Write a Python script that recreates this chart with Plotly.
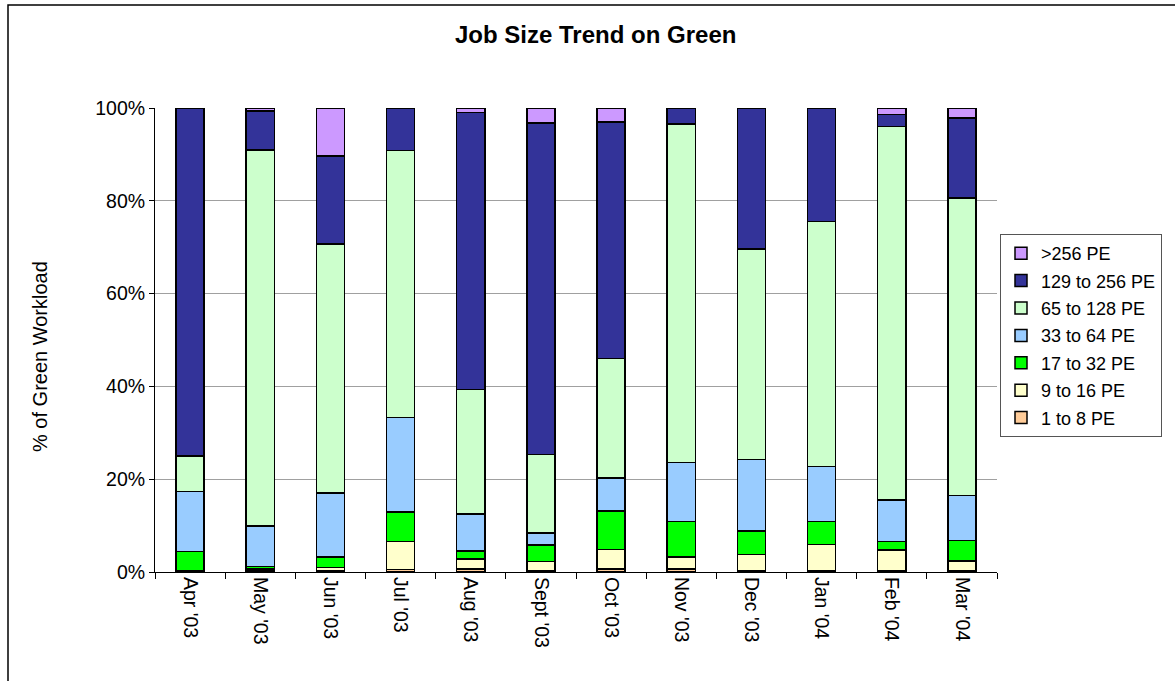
import plotly.graph_objects as go

# Monthly share of Green workload by job size (percent of total)
months = ["Apr '03", "May '03", "Jun '03", "Jul '03", "Aug '03", "Sept '03",
          "Oct '03", "Nov '03", "Dec '03", "Jan '04", "Feb '04", "Mar '04"]

pe_1_8     = [0.1, 0.3, 0.3, 0.5, 0.6, 0.2, 0.6, 0.6, 0.2, 0.2, 0.2, 0.2]
pe_9_16    = [0.1, 0.4, 0.7, 6.1, 2.2, 2.1, 4.3, 2.6, 3.6, 5.7, 4.5, 2.2]
pe_17_32   = [4.2, 0.5, 2.2, 6.3, 1.7, 3.5, 8.2, 7.7, 5.0, 5.0, 1.9, 4.4]
pe_33_64   = [12.9, 8.7, 13.8, 20.4, 8.0, 2.6, 7.2, 12.7, 15.4, 11.8, 8.9, 9.7]
pe_65_128  = [7.7, 81.0, 53.7, 57.5, 26.8, 16.9, 25.7, 73.0, 45.4, 52.8, 80.5, 64.1]
pe_129_256 = [75.0, 8.5, 19.0, 9.2, 59.7, 71.5, 51.0, 3.4, 30.4, 24.5, 2.6, 17.2]
pe_gt_256  = [0.0, 0.6, 10.3, 0.0, 1.0, 3.2, 3.0, 0.0, 0.0, 0.0, 1.4, 2.2]

y_ticks = [0, 20, 40, 60, 80, 100]
y_tick_labels = ["0%", "20%", "40%", "60%", "80%", "100%"]

series = [
    ("1 to 8 PE", pe_1_8, "#FFCC99"),
    ("9 to 16 PE", pe_9_16, "#FFFFCC"),
    ("17 to 32 PE", pe_17_32, "#00FF00"),
    ("33 to 64 PE", pe_33_64, "#99CCFF"),
    ("65 to 128 PE", pe_65_128, "#CCFFCC"),
    ("129 to 256 PE", pe_129_256, "#333399"),
    (">256 PE", pe_gt_256, "#CC99FF"),
]

FONT = "Liberation Sans, Arial, sans-serif"

fig = go.Figure()
n = len(series)
for i, (name, vals, color) in enumerate(series):
    fig.add_trace(go.Bar(
        x=months, y=vals, name=name, legendgroup=name,
        legendrank=n - i,
        marker=dict(color=color, line=dict(color="black", width=1.5)),
    ))

W, H = 1175, 681
L, R, T, B = 155, 178, 108, 109
pw, ph = W - L - R, H - T - B


def px_x(x):
    return (x - L) / pw


def px_y(y):
    return (H - B - y) / ph


fig.update_layout(
    width=W, height=H,
    margin=dict(l=L, r=R, t=T, b=B),
    barmode="stack", bargap=0.6,
    plot_bgcolor="white", paper_bgcolor="white",
    font=dict(family=FONT, size=19, color="black"),
    showlegend=True,
    legend=dict(
        x=px_x(1000), y=px_y(234), xanchor="left", yanchor="top",
        traceorder="grouped", tracegroupgap=1,
        bordercolor="#555555", borderwidth=1,
        font=dict(family=FONT, size=18, color="black"),
        itemwidth=30,
    ),
    xaxis=dict(
        type="category", tickangle=90, showline=True, linecolor="black",
        linewidth=1, ticks="outside", tickson="boundaries", ticklen=6,
        tickcolor="black", showgrid=False,
        tickfont=dict(family=FONT, size=19.5),
    ),
    yaxis=dict(
        range=[0, 100], tickvals=y_ticks, ticktext=y_tick_labels,
        showline=True, linecolor="black", linewidth=1, ticks="outside",
        ticklen=5, tickcolor="black", showgrid=True, gridcolor="#a0a0a0",
        gridwidth=1, zeroline=False, tickfont=dict(family=FONT, size=19.5),
    ),
    annotations=[
        dict(text="<b>Job Size Trend on Green</b>", xref="paper", yref="paper",
             x=px_x(595), y=px_y(35), xanchor="center", yanchor="middle",
             showarrow=False,
             font=dict(family=FONT, size=24, color="black")),
        dict(text="% of Green Workload", xref="paper", yref="paper",
             x=px_x(40), y=px_y(356), xanchor="center", yanchor="middle",
             textangle=-90, showarrow=False,
             font=dict(family=FONT, size=20, color="black")),
    ],
    shapes=[
        dict(type="rect", xref="paper", yref="paper",
             x0=px_x(8), x1=px_x(1190), y0=px_y(5), y1=px_y(700),
             line=dict(color="black", width=1.5), fillcolor="rgba(0,0,0,0)",
             layer="below"),
    ],
)

fig.write_html("out.html")
